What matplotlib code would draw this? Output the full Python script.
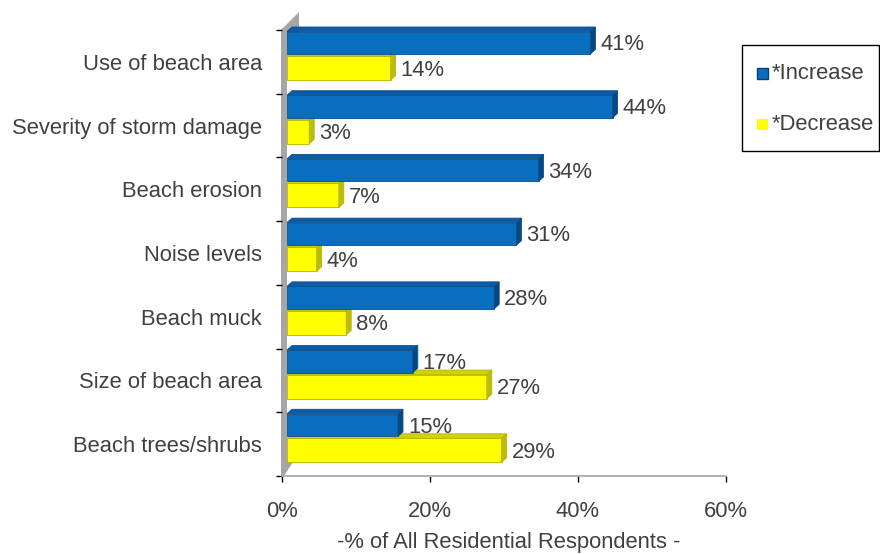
import numpy as np
import matplotlib
matplotlib.use('Agg')
from matplotlib import pyplot as plt
from matplotlib.patches import Polygon, Rectangle

# survey results, top row first
categories = ['Use of beach area', 'Severity of storm damage', 'Beach erosion',
              'Noise levels', 'Beach muck', 'Size of beach area', 'Beach trees/shrubs']
increase = [41, 44, 34, 31, 28, 17, 15]
decrease = [14, 3, 7, 4, 8, 27, 29]
xticks = [0, 20, 40, 60]
xticklabels = ['0%', '20%', '40%', '60%']

plt.rcParams['font.family'] = ['Liberation Sans', 'DejaVu Sans']
FS = 15.8
TXT = '#404040'

W, H = 880, 554
fig = plt.figure(figsize=(W / 100, H / 100), dpi=100)
ax = fig.add_axes([282 / W, (H - 476) / H, 444 / W, 446 / H])
ax.set_xlim(0, 60)
ax.set_ylim(7, 0)

# pixel <-> data helpers
PXX = 444 / 60.0
PXY = 446 / 7.0
def dx(p):
    return p / PXX
def dy(p):
    return p / PXY
def data_xy(px, py):
    return ((px - 282) / PXX, (py - 30) / PXY)

x0 = dx(5)       # front face starts a little off the wall
ddx, ddy = dx(5), dy(4.5)   # bar depth

# left wall (thin grey slab)
wall_px = [(281, 476), (281, 30), (299, 12), (299, 40), (287, 40),
           (287, 461), (293, 462), (284, 476)]
ax.add_patch(Polygon([data_xy(*p) for p in wall_px], closed=True,
                     facecolor='#A6A6A6', edgecolor='none', zorder=1, clip_on=False))

pos = np.arange(len(categories))


def bars3d(tops, h, vals, front, top, side, edge, z):
    bars = ax.barh(tops, vals, height=h, left=x0, align='edge', color=front,
                   edgecolor=edge, linewidth=0.6, zorder=z)
    for r in bars:
        x, y, w, hh = r.get_x(), r.get_y(), r.get_width(), r.get_height()
        ax.add_patch(Polygon([(x, y), (x + w, y), (x + w + ddx, y - ddy), (x + ddx, y - ddy)],
                             closed=True, facecolor=top, edgecolor=edge, linewidth=0.6,
                             zorder=z, clip_on=False))
        ax.add_patch(Polygon([(x + w, y), (x + w, y + hh), (x + w + ddx, y + hh - ddy),
                              (x + w + ddx, y - ddy)],
                             closed=True, facecolor=side, edgecolor=edge, linewidth=0.6,
                             zorder=z, clip_on=False))
    return bars


dec_bars = bars3d(pos + dy(26), dy(24), decrease, '#FFFF00', '#D2D200', '#BDBD00', '#B5B500', 2)
inc_bars = bars3d(pos + dy(1.5), dy(22.5), increase, '#0A6EC0', '#0B5CA6', '#064683', '#0A4F8E', 3)

# value labels
for bars, vals in ((inc_bars, increase), (dec_bars, decrease)):
    for r, v in zip(bars, vals):
        yc = r.get_y() + r.get_height() / 2
        ax.annotate('%d%%' % v, xy=(r.get_x() + r.get_width(), yc), xytext=(7.2, -1.5),
                    textcoords='offset points', ha='left', va='center',
                    fontsize=FS, color=TXT, zorder=5, annotation_clip=False)

# axes styling
for s in ('top', 'right', 'left'):
    ax.spines[s].set_visible(False)
ax.spines['bottom'].set_color('#A6A6A6')
ax.spines['bottom'].set_linewidth(1.2)
ax.set_xticks(xticks)
ax.set_xticklabels(xticklabels)
ax.tick_params(axis='x', length=4.3, width=1, color='black', pad=14,
               labelsize=FS, labelcolor=TXT)
ax.set_yticks(np.arange(len(categories) + 1))
ax.set_yticklabels([])
ax.set_yticks(pos + 0.5, minor=True)
ax.set_yticklabels(categories, minor=True)
ax.tick_params(axis='y', which='major', length=4.3, width=1, color='black')
ax.tick_params(axis='y', which='minor', length=0, pad=14.4, labelsize=FS, labelcolor=TXT)

fig.text(509 / W, 1 - 548 / H, '-% of All Residential Respondents -', ha='center',
         va='baseline', fontsize=FS, color=TXT)

# legend box
def fbox(x1, y1, x2, y2, **kw):
    return Rectangle((x1 / W, 1 - y2 / H), (x2 - x1) / W, (y2 - y1) / H,
                     transform=fig.transFigure, **kw)

fig.add_artist(fbox(742, 45, 879, 151, fill=False, edgecolor='black', linewidth=1))
fig.add_artist(fbox(757, 68, 768, 79, facecolor='#0A6EC0', edgecolor='#083F78', linewidth=1))
fig.add_artist(fbox(757, 119, 768, 130, facecolor='#FFFF00', edgecolor='none'))
fig.text(772 / W, 1 - 73.5 / H, '*Increase', ha='left', va='center', fontsize=FS, color=TXT)
fig.text(772 / W, 1 - 124.5 / H, '*Decrease', ha='left', va='center', fontsize=FS, color=TXT)

fig.savefig('out.png', dpi=100)
